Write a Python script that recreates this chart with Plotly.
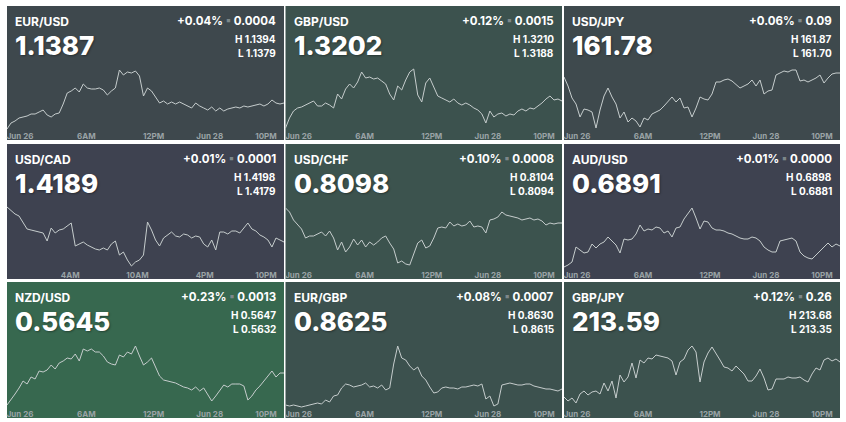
import plotly.graph_objects as go

W, H = 846, 422

# ---------------- data ----------------
PAIRS = ["EUR/USD", "GBP/USD", "USD/JPY",
         "USD/CAD", "USD/CHF", "AUD/USD",
         "NZD/USD", "EUR/GBP", "GBP/JPY"]
PRICES = ["1.1387", "1.3202", "161.78", "1.4189", "0.8098", "0.6891", "0.5645", "0.8625", "213.59"]
CHANGE_PCT = ["+0.04%", "+0.12%", "+0.06%", "+0.01%", "+0.10%", "+0.01%", "+0.23%", "+0.08%", "+0.12%"]
CHANGE_ABS = ["0.0004", "0.0015", "0.09", "0.0001", "0.0008", "0.0000", "0.0013", "0.0007", "0.26"]
HIGHS = ["1.1394", "1.3210", "161.87", "1.4198", "0.8104", "0.6898", "0.5647", "0.8630", "213.68"]
LOWS = ["1.1379", "1.3188", "161.70", "1.4179", "0.8094", "0.6881", "0.5632", "0.8615", "213.35"]

TICKS_DAY = ["Jun 26", "6AM", "12PM", "Jun 28", "10PM"]
TICKS_DAY_POS = [3.25, 19.75, 36.5, 50.5, 64.5]
TICKS_CAD = ["4AM", "10AM", "4PM", "10PM"]
TICKS_CAD_POS = [15.75, 32.5, 49.25, 64.5]

eur_usd = [1.1332, 1.1338, 1.1340, 1.1343, 1.1344, 1.1345, 1.1347, 1.1347, 1.1349, 1.1351,
           1.1346, 1.1344, 1.1347, 1.1348, 1.1357, 1.1368, 1.1370, 1.1373, 1.1369, 1.1377,
           1.1373, 1.1372, 1.1372, 1.1373, 1.1371, 1.1366, 1.1370, 1.1373, 1.1391, 1.1386,
           1.1389, 1.1388, 1.1390, 1.1385, 1.1365, 1.1373, 1.1370, 1.1364, 1.1358, 1.1360,
           1.1357, 1.1359, 1.1357, 1.1359, 1.1357, 1.1355, 1.1353, 1.1358, 1.1355, 1.1353,
           1.1351, 1.1354, 1.1350, 1.1353, 1.1350, 1.1352, 1.1353, 1.1354, 1.1353, 1.1355,
           1.1354, 1.1355, 1.1356, 1.1357, 1.1355, 1.1357, 1.1361, 1.1358, 1.1357, 1.1358]
gbp_usd = [1.3153, 1.3163, 1.3170, 1.3173, 1.3174, 1.3176, 1.3178, 1.3180, 1.3175, 1.3175,
           1.3178, 1.3176, 1.3173, 1.3187, 1.3182, 1.3192, 1.3197, 1.3193, 1.3199, 1.3209,
           1.3203, 1.3204, 1.3202, 1.3203, 1.3200, 1.3197, 1.3187, 1.3181, 1.3195, 1.3191,
           1.3201, 1.3209, 1.3212, 1.3186, 1.3179, 1.3198, 1.3203, 1.3194, 1.3185, 1.3183,
           1.3181, 1.3179, 1.3182, 1.3178, 1.3176, 1.3178, 1.3176, 1.3173, 1.3171, 1.3167,
           1.3158, 1.3170, 1.3164, 1.3167, 1.3168, 1.3165, 1.3167, 1.3166, 1.3170, 1.3172,
           1.3170, 1.3173, 1.3172, 1.3175, 1.3178, 1.3182, 1.3185, 1.3181, 1.3182, 1.3180]
usd_jpy = [161.84, 161.75, 161.63, 161.57, 161.44, 161.52, 161.51, 161.49, 161.33, 161.51,
           161.65, 161.73, 161.64, 161.57, 161.43, 161.49, 161.39, 161.43, 161.40, 161.34,
           161.43, 161.41, 161.47, 161.49, 161.51, 161.55, 161.59, 161.64, 161.59, 161.63,
           161.53, 161.54, 161.44, 161.53, 161.64, 161.62, 161.61, 161.67, 161.79, 161.79,
           161.81, 161.82, 161.80, 161.76, 161.73, 161.75, 161.77, 161.81, 161.75, 161.81,
           161.67, 161.70, 161.71, 161.86, 161.88, 161.90, 161.89, 161.91, 161.91, 161.80,
           161.81, 161.79, 161.81, 161.83, 161.86, 161.78, 161.83, 161.87, 161.88, 161.88]
usd_cad = [1.4213, 1.4209, 1.4206, 1.4204, 1.4198, 1.4191, 1.4190, 1.4189, 1.4188, 1.4187,
           1.4179, 1.4192, 1.4187, 1.4190, 1.4191, 1.4194, 1.4197, 1.4174, 1.4176, 1.4178,
           1.4175, 1.4173, 1.4171, 1.4170, 1.4172, 1.4170, 1.4176, 1.4179, 1.4165, 1.4168,
           1.4160, 1.4154, 1.4158, 1.4160, 1.4165, 1.4198, 1.4190, 1.4180, 1.4174, 1.4182,
           1.4185, 1.4188, 1.4184, 1.4183, 1.4186, 1.4185, 1.4182, 1.4184, 1.4183, 1.4176,
           1.4173, 1.4180, 1.4170, 1.4188, 1.4188, 1.4186, 1.4189, 1.4189, 1.4187, 1.4192,
           1.4197, 1.4191, 1.4189, 1.4185, 1.4183, 1.4180, 1.4173, 1.4182, 1.4180, 1.4178]
usd_chf = [0.8112, 0.8108, 0.8100, 0.8095, 0.8091, 0.8082, 0.8084, 0.8084, 0.8086, 0.8088,
           0.8084, 0.8089, 0.8082, 0.8070, 0.8078, 0.8068, 0.8073, 0.8081, 0.8075, 0.8080,
           0.8073, 0.8078, 0.8075, 0.8078, 0.8082, 0.8084, 0.8077, 0.8071, 0.8057, 0.8059,
           0.8056, 0.8055, 0.8066, 0.8077, 0.8080, 0.8072, 0.8074, 0.8082, 0.8092, 0.8093,
           0.8092, 0.8098, 0.8094, 0.8096, 0.8094, 0.8095, 0.8099, 0.8093, 0.8094, 0.8093,
           0.8087, 0.8100, 0.8101, 0.8103, 0.8108, 0.8105, 0.8104, 0.8103, 0.8102, 0.8100,
           0.8101, 0.8102, 0.8100, 0.8101, 0.8099, 0.8095, 0.8097, 0.8096, 0.8097, 0.8097]
aud_usd = [0.6843, 0.6845, 0.6848, 0.6863, 0.6860, 0.6857, 0.6858, 0.6866, 0.6862, 0.6866,
           0.6868, 0.6873, 0.6869, 0.6865, 0.6857, 0.6871, 0.6870, 0.6871, 0.6876, 0.6885,
           0.6879, 0.6881, 0.6880, 0.6883, 0.6882, 0.6877, 0.6879, 0.6873, 0.6882, 0.6883,
           0.6891, 0.6896, 0.6902, 0.6892, 0.6881, 0.6889, 0.6888, 0.6882, 0.6880, 0.6880,
           0.6879, 0.6877, 0.6876, 0.6874, 0.6872, 0.6871, 0.6871, 0.6873, 0.6872, 0.6869,
           0.6863, 0.6860, 0.6858, 0.6858, 0.6869, 0.6870, 0.6871, 0.6872, 0.6869, 0.6858,
           0.6854, 0.6852, 0.6851, 0.6855, 0.6858, 0.6862, 0.6867, 0.6863, 0.6866, 0.6864]
nzd_usd = [0.5594, 0.5599, 0.5605, 0.5611, 0.5618, 0.5615, 0.5622, 0.5620, 0.5628, 0.5627,
           0.5629, 0.5634, 0.5630, 0.5636, 0.5638, 0.5641, 0.5640, 0.5645, 0.5638, 0.5650,
           0.5648, 0.5650, 0.5647, 0.5647, 0.5643, 0.5637, 0.5635, 0.5634, 0.5644, 0.5642,
           0.5647, 0.5645, 0.5653, 0.5643, 0.5634, 0.5637, 0.5641, 0.5632, 0.5623, 0.5619,
           0.5618, 0.5617, 0.5616, 0.5614, 0.5612, 0.5611, 0.5609, 0.5612, 0.5608, 0.5611,
           0.5605, 0.5598, 0.5603, 0.5608, 0.5614, 0.5612, 0.5615, 0.5615, 0.5615, 0.5613,
           0.5599, 0.5603, 0.5609, 0.5613, 0.5618, 0.5624, 0.5628, 0.5622, 0.5626, 0.5626]
eur_gbp = [0.8574, 0.8573, 0.8574, 0.8573, 0.8572, 0.8573, 0.8574, 0.8575, 0.8576, 0.8575,
           0.8579, 0.8577, 0.8583, 0.8584, 0.8591, 0.8595, 0.8594, 0.8592, 0.8593, 0.8594,
           0.8596, 0.8592, 0.8593, 0.8591, 0.8594, 0.8589, 0.8591, 0.8615, 0.8633, 0.8621,
           0.8619, 0.8613, 0.8609, 0.8612, 0.8603, 0.8599, 0.8592, 0.8586, 0.8587, 0.8591,
           0.8592, 0.8591, 0.8591, 0.8590, 0.8592, 0.8592, 0.8593, 0.8594, 0.8593, 0.8595,
           0.8580, 0.8583, 0.8573, 0.8575, 0.8594, 0.8595, 0.8596, 0.8595, 0.8594, 0.8594,
           0.8595, 0.8595, 0.8593, 0.8592, 0.8591, 0.8590, 0.8590, 0.8589, 0.8588, 0.8590]
gbp_jpy = [213.12, 213.08, 213.11, 213.06, 213.15, 213.18, 213.14, 213.17, 213.18, 213.15,
           213.26, 213.18, 213.28, 213.11, 213.34, 213.27, 213.32, 213.46, 213.31, 213.49,
           213.46, 213.51, 213.50, 213.54, 213.53, 213.52, 213.51, 213.48, 213.34, 213.47,
           213.50, 213.59, 213.63, 213.57, 213.27, 213.47, 213.56, 213.62, 213.56, 213.49,
           213.42, 213.41, 213.38, 213.43, 213.39, 213.35, 213.28, 213.28, 213.33, 213.40,
           213.31, 213.19, 213.20, 213.30, 213.30, 213.30, 213.32, 213.31, 213.31, 213.32,
           213.29, 213.27, 213.35, 213.41, 213.39, 213.49, 213.51, 213.48, 213.50, 213.47]

SERIES = [eur_usd, gbp_usd, usd_jpy, usd_cad, usd_chf, aud_usd, nzd_usd, eur_gbp, gbp_jpy]
Y_RANGES = [(1.1330, 1.1399), (1.3150, 1.3219), (161.30, 161.99),
            (1.4150, 1.4219), (0.8050, 0.8119), (0.6840, 0.6909),
            (0.5590, 0.5659), (0.8570, 0.8639), (213.00, 213.69)]

# ---------------- style / layout ----------------
TILE_COLORS = ["#3e484d", "#3c524e", "#3e494d",
               "#3e4250", "#3c534e", "#3e4250",
               "#37684f", "#3c514e", "#3c524e"]
LINE_COLOR = "#c6cdcd"
TICK_COLOR = "#9aa3a6"
SEP_COLOR = "#7d878a"
FONT = "Inter"

COLS = [(7, 284), (285.5, 562), (564, 840)]
ROWS = [(6, 140), (144, 279), (282, 418)]


def px(x):
    return x / W


def py(y):
    return 1 - y / H


fig = go.Figure()
shapes = []
annotations = []
layout_axes = {}

for k, pair in enumerate(PAIRS):
    r, c = divmod(k, 3)
    left, right = COLS[c]
    top, bottom = ROWS[r]
    n = k + 1
    xa = "x" if n == 1 else f"x{n}"
    ya = "y" if n == 1 else f"y{n}"

    shapes.append(dict(type="rect", xref="paper", yref="paper",
                       x0=px(left), x1=px(right), y0=py(bottom), y1=py(top),
                       fillcolor=TILE_COLORS[k], line=dict(width=0), layer="below"))

    vals = SERIES[k]
    fig.add_trace(go.Scatter(x=list(range(len(vals))), y=vals, mode="lines",
                             line=dict(color=LINE_COLOR, width=1),
                             xaxis=xa, yaxis=ya, showlegend=False, hoverinfo="skip"))

    ax_bottom = bottom - 9
    ax_top = ax_bottom - 69
    if pair == "USD/CAD":
        tv, tt = TICKS_CAD_POS, TICKS_CAD
    else:
        tv, tt = TICKS_DAY_POS, TICKS_DAY
    layout_axes[f"xaxis{'' if n == 1 else n}"] = dict(
        domain=[px(left), px(right)], range=[0, len(vals) - 1], anchor=ya,
        tickvals=tv, ticktext=tt, showgrid=False, zeroline=False, showline=False,
        ticks="", ticklabelstandoff=-1, ticklabeloverflow="allow",
        tickfont=dict(family=FONT, size=8, color=TICK_COLOR, weight=700),
        fixedrange=True)
    layout_axes[f"yaxis{'' if n == 1 else n}"] = dict(
        domain=[py(ax_bottom), py(ax_top)], range=list(Y_RANGES[k]), anchor=xa,
        visible=False, fixedrange=True)

    white = "#ffffff"
    annotations += [
        dict(x=px(left + 6), y=py(top + 15), text=pair, xanchor="left", yanchor="middle",
             font=dict(family=FONT, size=12, color=white, weight=700)),
        dict(x=px(left + 6), y=py(top + 39), text=PRICES[k], xanchor="left", yanchor="middle",
             font=dict(family=FONT, size=26, color=white, weight=800,
                       shadow="1px 1px 2px rgba(0,0,0,0.35)")),
        dict(x=px(right - 6), y=py(top + 15),
             text=f"{CHANGE_PCT[k]} <span style='color:{SEP_COLOR}'>▪</span> {CHANGE_ABS[k]}",
             xanchor="right", yanchor="middle",
             font=dict(family=FONT, size=11.5, color=white, weight=700)),
        dict(x=px(right - 6), y=py(top + 33.3), text=f"H {HIGHS[k]}", xanchor="right",
             yanchor="middle", font=dict(family=FONT, size=10, color=white, weight=700)),
        dict(x=px(right - 6), y=py(top + 47), text=f"L {LOWS[k]}", xanchor="right",
             yanchor="middle", font=dict(family=FONT, size=10, color=white, weight=700)),
    ]

for a in annotations:
    a.update(xref="paper", yref="paper", showarrow=False)

fig.update_layout(width=W, height=H, margin=dict(l=0, r=0, t=0, b=0),
                  paper_bgcolor="#ffffff", plot_bgcolor="rgba(0,0,0,0)",
                  shapes=shapes, annotations=annotations, **layout_axes)

fig.write_html("out.html", config={"displayModeBar": False},
               post_script="document.body.style.margin='0';document.body.style.padding='0';")
